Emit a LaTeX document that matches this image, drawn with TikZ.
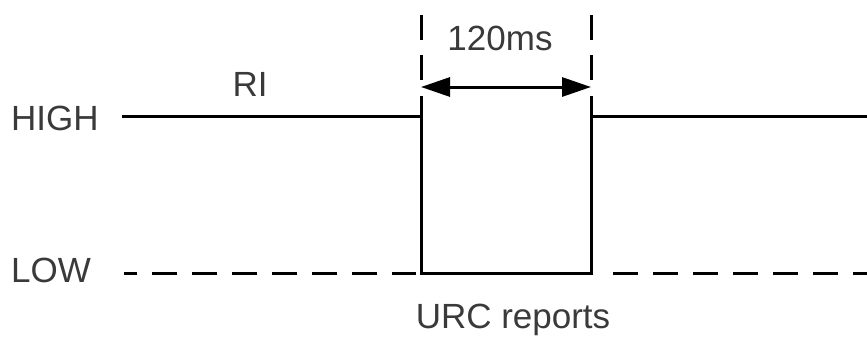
\documentclass[tikz,border=0pt]{standalone}
\usepackage{fontspec}
\setmainfont{Liberation Sans}
\usetikzlibrary{arrows.meta}
\definecolor{labelgray}{HTML}{3A3A3A}
\tikzset{
  lbl/.style={inner sep=0pt, text=labelgray, font=\fontsize{35}{40}\selectfont},
  sig/.style={line width=3pt, line cap=butt, line join=miter},
  lowdash/.style={sig, dash pattern=on 25pt off 15pt},
  guide/.style={sig, dash pattern=on 25pt off 15pt},
  span/.style={line width=3pt, {Triangle[length=29pt,width=19pt]}-{Triangle[length=29pt,width=19pt]}}
}
\begin{document}
\begin{tikzpicture}[x=1pt,y=-1pt]
  \useasboundingbox (0,0) rectangle (867,343);

  % level labels
  \node[lbl, anchor=base west] (high) at (11,130) {HIGH};
  \node[lbl, anchor=base west] (low)  at (11,282) {LOW};
  \node[lbl, anchor=base] (ri)  at (250,96)  {RI};
  \node[lbl, anchor=base] (dur) at (500,50)  {120ms};
  \node[lbl, anchor=base] (urc) at (513,328) {URC reports};

  % waveform corners
  \coordinate (h0) at (122,116);
  \coordinate (h1) at (421,116);
  \coordinate (t1) at (421,96);
  \coordinate (b1) at (421,273);
  \coordinate (b2) at (591,273);
  \coordinate (t2) at (591,96);
  \coordinate (h2) at (591,116);
  \coordinate (h3) at (867,116);

  % guide marks above the pulse edges
  \coordinate (g1a) at (421,15);
  \coordinate (g1b) at (421,80);
  \coordinate (g2a) at (591,15);
  \coordinate (g2b) at (591,80);

  % low reference level
  \coordinate (l0) at (124,273);
  \coordinate (l1) at (416,273);
  \coordinate (l2) at (613,273);
  \coordinate (l3) at (867,273);

  % arrow ends
  \coordinate (a1) at (421,87);
  \coordinate (a2) at (591,87);

  % signal
  \draw[sig] (h0) -- (h1);
  \draw[sig] (t1) -- (b1) -- (b2) -- (t2);
  \draw[sig] (h2) -- (h3);

  % dashed low level
  \draw[lowdash, dash phase=12pt] (l0) -- (l1);
  \draw[lowdash] (l2) -- (l3);

  % dashed guides
  \draw[guide] (g1a) -- (g1b);
  \draw[guide] (g2a) -- (g2b);

  % pulse width
  \draw[span] (a1) -- (a2);
\end{tikzpicture}
\end{document}
